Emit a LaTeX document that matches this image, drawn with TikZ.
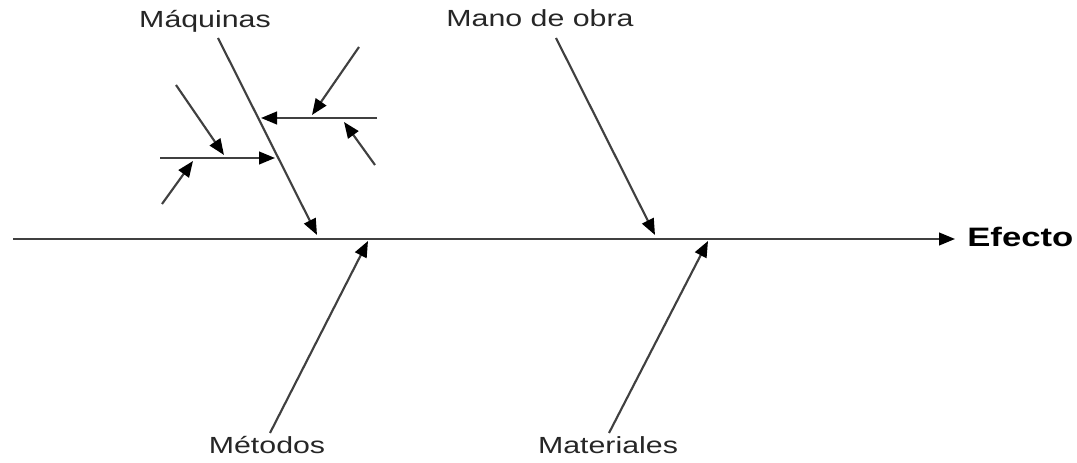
\documentclass[tikz,border=0pt]{standalone}
\usepackage{fontspec}
\setmainfont{Liberation Sans}
\usetikzlibrary{arrows.meta}
\begin{document}
\begin{tikzpicture}[x=0.75pt, y=0.75pt,
  >={Triangle[length=12pt, width=9.5pt, color=black]},
  rama/.style={draw=black!75, line width=1.6pt, ->},
  etiqueta/.style={font=\fontsize{17.5}{20}\selectfont, text=black!85, inner sep=0pt, xscale=1.3, transform shape}]
\useasboundingbox (0,0) rectangle (1077,463);
% Espina principal
\coordinate (S0) at (13,224);
\coordinate (SE) at (955,224);
% Ramas: Anfang und Spitze
\coordinate (MAQa) at (218,425);
\coordinate (MAQb) at (317,228);
\coordinate (MOa)  at (556,425);
\coordinate (MOb)  at (655,228);
\coordinate (METa) at (270,30);
\coordinate (METb) at (368,222);
\coordinate (MATa) at (609,30);
\coordinate (MATb) at (708,222);
% Subramas an Maquinas
\coordinate (A0)  at (377,345);
\coordinate (A1)  at (261,345);
\coordinate (A2a) at (359,416);
\coordinate (A2b) at (312,348);
\coordinate (A3a) at (375,298);
\coordinate (A3b) at (344,341);
\coordinate (B0)  at (160,305);
\coordinate (B1)  at (275,305);
\coordinate (B2a) at (176,378);
\coordinate (B2b) at (224,308);
\coordinate (B3a) at (162,259);
\coordinate (B3b) at (193,302);
% Texte
\node[etiqueta, anchor=base] (maq) at (205,435) {Máquinas};
\node[etiqueta, anchor=base] (mo)  at (540,436) {Mano de obra};
\node[etiqueta, anchor=base] (met) at (267,9)   {Métodos};
\node[etiqueta, anchor=base] (mat) at (608,9)   {Materiales};
\node[etiqueta, anchor=base west, font=\fontsize{20}{24}\selectfont\bfseries, text=black] (ef) at (967,216) {Efecto};
% Pfeile
\draw[rama] (S0) -- (SE);
\draw[rama] (MAQa) -- (MAQb);
\draw[rama] (MOa) -- (MOb);
\draw[rama] (METa) -- (METb);
\draw[rama] (MATa) -- (MATb);
\draw[rama] (A0) -- (A1);
\draw[rama] (A2a) -- (A2b);
\draw[rama] (A3a) -- (A3b);
\draw[rama] (B0) -- (B1);
\draw[rama] (B2a) -- (B2b);
\draw[rama] (B3a) -- (B3b);
\end{tikzpicture}
\end{document}
